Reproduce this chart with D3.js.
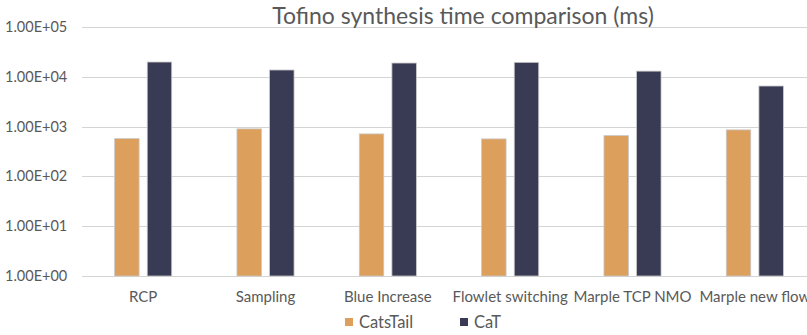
<!DOCTYPE html>
<html>
<head>
<meta charset="utf-8">
<script src="https://cdn.jsdelivr.net/npm/d3@7"></script>
<style>
  body { margin: 0; background: #fff; }
  svg { display: block; font-family: Lato, "Open Sans", sans-serif; }
</style>
</head>
<body>
<div id="chart"></div>
<script>
const categories = ["RCP", "Sampling", "Blue Increase", "Flowlet switching", "Marple TCP NMO", "Marple new flow"];
const seriesNames = ["CatsTail", "CaT"];
const catsTail = [574, 900, 713, 566, 659, 859];
const cat = [19800, 13700, 18900, 19500, 13000, 6530];
const yTicks = [1, 10, 100, 1000, 10000, 100000];
const colors = ["#dd9f5c", "#393a54"];

const width = 807, height = 335;
const margin = { top: 27, right: -9, bottom: 59, left: 82 };

const svg = d3.select("#chart").append("svg")
  .attr("width", width)
  .attr("height", height);

const x = d3.scaleBand()
  .domain(categories)
  .range([margin.left, width - margin.right]);

const x1 = d3.scaleBand()
  .domain(seriesNames)
  .range([0, x.bandwidth()])
  .paddingInner(0.25)
  .paddingOuter(1.0);

const y = d3.scaleLog()
  .domain([1, 100000])
  .range([height - margin.bottom, margin.top]);

// gridlines
svg.append("g")
  .selectAll("line")
  .data(yTicks)
  .join("line")
  .attr("x1", margin.left)
  .attr("x2", width)
  .attr("y1", d => Math.round(y(d)) + 0.5)
  .attr("y2", d => Math.round(y(d)) + 0.5)
  .attr("stroke", "#d4d4d4")
  .attr("stroke-width", 1.2);

// y tick labels
svg.append("g")
  .selectAll("text")
  .data(yTicks)
  .join("text")
  .attr("x", 5)
  .attr("y", d => y(d))
  .attr("dy", "0.35em")
  .attr("fill", "#595959")
  .style("font-size", "14.5px")
  .text(d => d.toExponential(2).toUpperCase().replace(/E\+(\d)$/, "E+0$1"));

const rows = categories.map((c, i) => ({ cat: c, values: [catsTail[i], cat[i]] }));

const groups = svg.append("g")
  .selectAll("g")
  .data(rows)
  .join("g")
  .attr("transform", d => `translate(${x(d.cat)},0)`);

groups.selectAll("rect")
  .data(d => d.values.map((v, j) => ({ key: seriesNames[j], value: v, j })))
  .join("rect")
  .attr("x", d => x1(d.key))
  .attr("width", x1.bandwidth())
  .attr("y", d => y(d.value))
  .attr("height", d => y(1) - y(d.value))
  .attr("fill", d => colors[d.j])
  .attr("stroke", "#c8c8c8")
  .attr("stroke-width", 0.8);

// category labels
svg.append("g")
  .selectAll("text")
  .data(categories)
  .join("text")
  .attr("x", d => x(d) + x.bandwidth() / 2)
  .attr("y", 297)
  .attr("dy", "0.35em")
  .attr("text-anchor", "middle")
  .attr("fill", "#595959")
  .style("font-size", "15px")
  .text(d => d);

// title
svg.append("text")
  .attr("x", 463)
  .attr("y", 24)
  .attr("text-anchor", "middle")
  .attr("fill", "#595959")
  .style("font-size", "23px")
  .text("Tofino synthesis time comparison (ms)");

// legend
const legendX = [345, 460];
const legend = svg.append("g")
  .selectAll("g")
  .data(seriesNames)
  .join("g")
  .attr("transform", (d, i) => `translate(${legendX[i]},318)`);

legend.append("rect")
  .attr("width", 8)
  .attr("height", 8)
  .attr("fill", (d, i) => colors[i]);

legend.append("text")
  .attr("x", 14)
  .attr("y", 4)
  .attr("dy", "0.35em")
  .attr("fill", "#595959")
  .style("font-size", "16.5px")
  .text(d => d);
</script>
</body>
</html>
